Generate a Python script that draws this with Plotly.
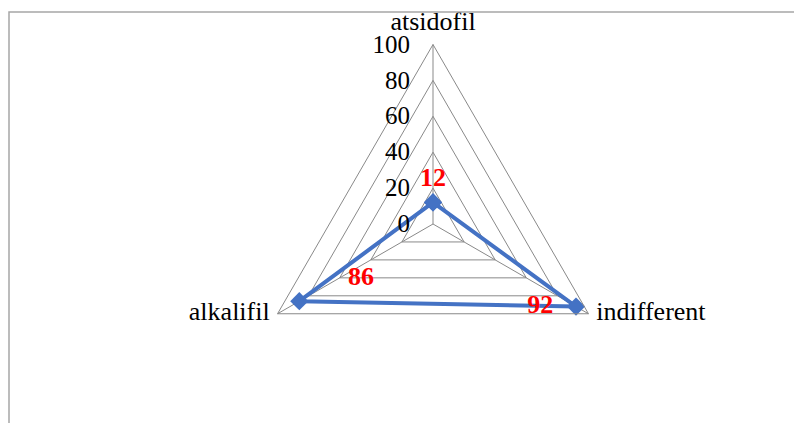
import plotly.graph_objects as go

categories = ["atsidofil", "indifferent", "alkalifil"]
values = [12, 92, 86]
label_pos = ["top center", "middle left", "top right"]
label_pad_left = [0, 0, 6]   # non-breaking spaces before the label
label_pad_right = [0, 2, 0]  # non-breaking spaces after the label
radial_ticks = [0, 20, 40, 60, 80, 100]
cat_pos = ["top center", "middle right", "middle left"]
cat_gap = [12, 11, 11]  # invisible marker sizes, only used to space the names

W, H = 802, 423
off = 8  # page body margin
cx, cy, R = 433 - off, 224 - off, 179.5  # centre and outer radius in pixels

blue = "#4472C4"
grid = "#898989"
font = "Liberation Serif"

labels = [
    "\u00a0" * a + str(v) + "\u00a0" * b
    for v, a, b in zip(values, label_pad_left, label_pad_right)
]

fig = go.Figure()

fig.add_trace(
    go.Scatterpolar(
        r=values + values[:1],
        theta=categories + categories[:1],
        mode="lines+markers+text",
        line=dict(color=blue, width=4),
        marker=dict(symbol="diamond", size=14, color=blue),
        text=labels + [""],
        textposition=label_pos + ["top center"],
        textfont=dict(family=font, size=26, color="red", weight="bold"),
        cliponaxis=False,
        showlegend=False,
    )
)

# category names at the outer ring
fig.add_trace(
    go.Scatterpolar(
        r=[radial_ticks[-1]] * len(categories),
        theta=categories,
        mode="markers+text",
        marker=dict(size=cat_gap, opacity=0),
        text=categories,
        textposition=cat_pos,
        textfont=dict(family=font, size=26, color="black"),
        cliponaxis=False,
        hoverinfo="skip",
        showlegend=False,
    )
)

fig.update_layout(
    width=W,
    height=H,
    margin=dict(l=0, r=0, t=0, b=0),
    paper_bgcolor="white",
    plot_bgcolor="white",
    font=dict(family=font, size=26, color="black"),
    polar=dict(
        domain=dict(
            x=[(cx - R) / W, (cx + R) / W],
            y=[(H - cy - R) / H, (H - cy + R) / H],
        ),
        bgcolor="white",
        gridshape="linear",
        angularaxis=dict(
            direction="clockwise",
            rotation=90,
            showline=True,
            linecolor=grid,
            linewidth=1,
            gridcolor=grid,
            gridwidth=1,
            ticks="",
            showticklabels=False,
        ),
        radialaxis=dict(
            range=[0, 100],
            tickvals=radial_ticks,
            ticktext=[str(t) + "\u00a0" * 3 for t in radial_ticks],
            angle=90,
            tickangle=90,
            side="counterclockwise",
            showline=False,
            gridcolor=grid,
            gridwidth=1,
            ticks="",
            tickfont=dict(family=font, size=25, color="black"),
        ),
    ),
    shapes=[
        dict(
            type="rect",
            xref="paper",
            yref="paper",
            x0=1 / W,
            x1=1.01,
            y0=-0.01,
            y1=(H - 12 + off) / H,
            line=dict(color="#a6a6a6", width=1.5),
        )
    ],
)

fig.write_html("out.html")
